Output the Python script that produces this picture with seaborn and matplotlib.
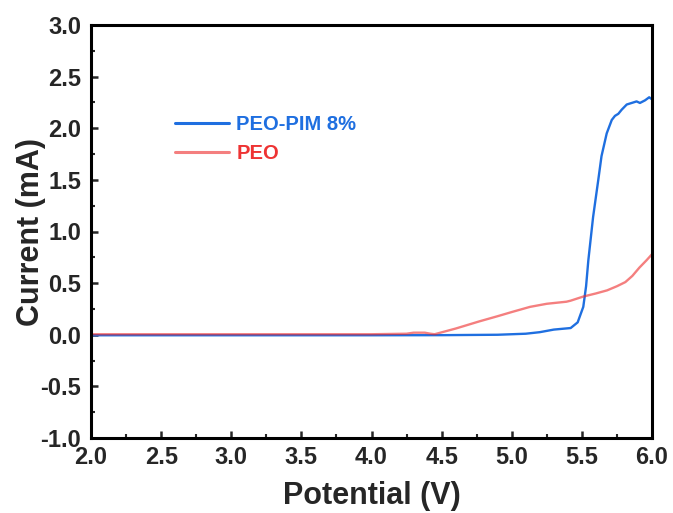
import matplotlib
matplotlib.use("Agg")
import matplotlib.pyplot as plt
import seaborn as sns
import numpy as np
from matplotlib.ticker import MultipleLocator

# Data
pim_v = [2.0, 3.0, 4.0, 4.5, 4.9, 5.1, 5.2, 5.3, 5.42, 5.47, 5.51, 5.53, 5.546,
         5.58, 5.617, 5.64, 5.677, 5.713, 5.736, 5.76, 5.784, 5.82, 5.867, 5.89,
         5.914, 5.95, 5.98, 6.0]
pim_i = [-0.005, -0.005, -0.005, -0.004, 0.0, 0.01, 0.025, 0.05, 0.065, 0.12, 0.27,
         0.47, 0.72, 1.14, 1.50, 1.73, 1.95, 2.08, 2.12, 2.14, 2.18, 2.23, 2.25,
         2.26, 2.245, 2.27, 2.30, 2.28]

peo_v = [2.0, 3.0, 4.0, 4.25, 4.3, 4.38, 4.42, 4.45, 4.6, 4.77, 4.9, 5.0, 5.13,
         5.25, 5.39, 5.42, 5.51, 5.6, 5.68, 5.75, 5.81, 5.86, 5.91, 5.96, 6.0]
peo_i = [0.005, 0.005, 0.005, 0.01, 0.02, 0.02, 0.01, 0.005, 0.06, 0.13, 0.18,
         0.22, 0.27, 0.30, 0.32, 0.33, 0.37, 0.40, 0.43, 0.47, 0.51, 0.57, 0.65,
         0.72, 0.78]

labels = ["PEO-PIM 8%", "PEO"]
line_colors = ["#1f6fe0", "#ee2a2a"]
text_colors = ["#1f6fe0", "#ee3333"]

sns.set_style("white")
plt.rcParams['font.family'] = ['Liberation Sans', 'DejaVu Sans']
plt.rcParams['font.weight'] = 'bold'

fig = plt.figure(figsize=(6.73, 5.13), dpi=100)
ax = fig.add_axes([91/673, 1-438/513, (652-91)/673, (438-25)/513])

sns.lineplot(x=pim_v, y=pim_i, ax=ax, color=line_colors[0], linewidth=1.7,
             label=labels[0])
sns.lineplot(x=peo_v, y=peo_i, ax=ax, color=line_colors[1], linewidth=1.7,
             alpha=0.6, label=labels[1])

ax.set_xlim(2.0, 6.0)
ax.set_ylim(-1.0, 3.0)
ax.xaxis.set_major_locator(MultipleLocator(0.5))
ax.xaxis.set_minor_locator(MultipleLocator(0.25))
ax.yaxis.set_major_locator(MultipleLocator(0.5))
ax.yaxis.set_minor_locator(MultipleLocator(0.25))
ax.xaxis.set_major_formatter(matplotlib.ticker.FormatStrFormatter('%.1f'))
ax.yaxis.set_major_formatter(matplotlib.ticker.FormatStrFormatter('%.1f'))

for s in ax.spines.values():
    s.set_linewidth(2.2)
    s.set_color('black')

ax.tick_params(axis='both', which='major', direction='in', length=5, width=1.8,
               labelsize=17, top=False, right=False, bottom=True, left=True)
ax.tick_params(axis='both', which='minor', direction='in', length=3, width=1.5,
               top=False, right=False, bottom=True, left=True)
ax.tick_params(axis='x', which='major', pad=6)
ax.tick_params(axis='y', which='major', pad=7)
for lab in ax.get_xticklabels() + ax.get_yticklabels():
    lab.set_fontweight('bold')

ax.set_xlabel("Potential (V)", fontsize=22, fontweight='bold')
ax.set_ylabel("Current (mA)", fontsize=22, fontweight='bold')
ax.xaxis.set_label_coords(0.5, -(496 - 438) / 413)
ax.xaxis.label.set_verticalalignment('center')
ax.yaxis.set_label_coords((31 - 91) / 561, 0.5)
ax.yaxis.label.set_verticalalignment('center')

leg = ax.legend(loc='upper left', bbox_to_anchor=((175-91)/561, (438-115)/413),
                frameon=False, fontsize=14.5, handlelength=2.7,
                handletextpad=0.35, labelspacing=0.5, borderpad=0,
                borderaxespad=0, labelcolor=text_colors,
                prop={'weight': 'bold', 'size': 14.5})
for h in leg.get_lines():
    h.set_linewidth(2.2)

fig.savefig("out.png", dpi=100)
